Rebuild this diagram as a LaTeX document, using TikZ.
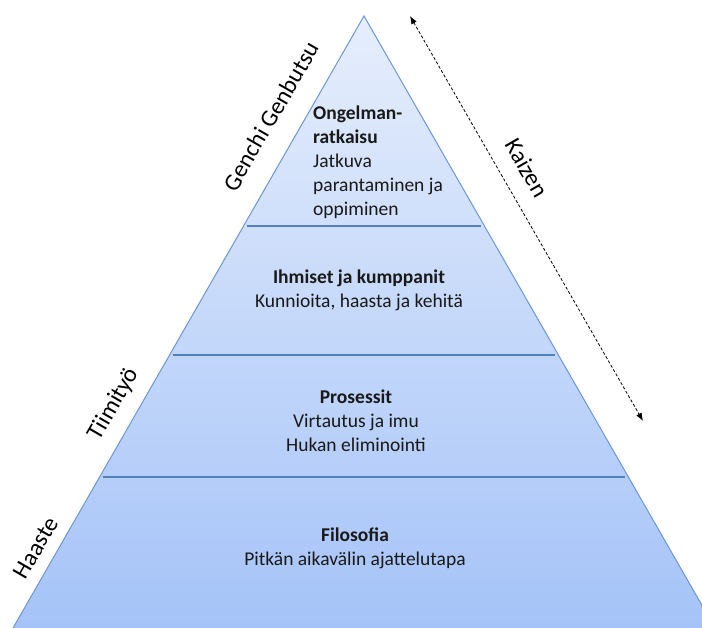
\documentclass[tikz,border=0pt]{standalone}
\usepackage{fontspec}
\setmainfont{Carlito}
\usetikzlibrary{calc,arrows.meta}
\definecolor{pyrtop}{RGB}{230,238,252}
\definecolor{pyrbot}{RGB}{165,195,248}
\definecolor{pyredge}{RGB}{108,150,212}
\definecolor{divline}{RGB}{79,129,189}
\tikzset{
  layertext/.style={font=\fontsize{19.5}{24}\selectfont, align=center, text=black!90, inner sep=0pt},
  sidelabel/.style={font=\fontsize{24}{28}\selectfont, text=black, inner sep=0pt},
  divider/.style={draw=divline, line width=2.6pt},
  kaizenarrow/.style={densely dashed, line width=0.8pt, {Latex[length=8pt,width=6pt]}-{Latex[length=8pt,width=6pt]}},
}
\begin{document}
\begin{tikzpicture}[x=1pt,y=-1pt]
  \useasboundingbox (0,0) rectangle (702,627);
  \clip (0,0) rectangle (702,627);

  % pyramid corners
  \coordinate (apex) at (364,16);
  \coordinate (bl) at (13,628);
  \coordinate (br) at (715,628);

  % pyramid body
  \shade[top color=pyrtop, bottom color=pyrbot] (apex) -- (bl) -- (br) -- cycle;
  \draw[pyredge, line width=1pt] (bl) -- (apex) -- (br);

  % layer dividers
  \foreach \t/\n in {0.343/a, 0.554/b, 0.753/c}{
    \coordinate (l\n) at ($(apex)!\t!(bl)$);
    \coordinate (r\n) at ($(apex)!\t!(br)$);
    \draw[divider] ($(l\n)+(3,0)$) -- ($(r\n)+(-3,0)$);
  }

  % layer texts
  \node[layertext, align=left, anchor=north west] (top) at (313,106)
    {\textbf{Ongelman-}\\\textbf{ratkaisu}\\Jatkuva\\parantaminen ja\\oppiminen};
  \node[layertext] (people) at (359,290)
    {\textbf{Ihmiset ja kumppanit}\\Kunnioita, haasta ja kehitä};
  \node[layertext] (process) at (356,421)
    {\textbf{Prosessit}\\Virtautus ja imu\\Hukan eliminointi};
  \node[layertext] (philo) at (355,548)
    {\textbf{Filosofia}\\Pitkän aikavälin ajattelutapa};

  % side labels
  \node[sidelabel, rotate=60] (genchi) at (271,116) {Genchi Genbutsu};
  \node[sidelabel, rotate=60] (team) at (114,404) {Tiimityö};
  \node[sidelabel, rotate=60] (haaste) at (36,548) {Haaste};
  \node[sidelabel, rotate=-60] (kaizen) at (527,168) {Kaizen};

  % kaizen arrow
  \coordinate (kstart) at (410,16);
  \coordinate (kend) at (643,421);
  \draw[kaizenarrow] (kstart) -- (kend);
\end{tikzpicture}
\end{document}
